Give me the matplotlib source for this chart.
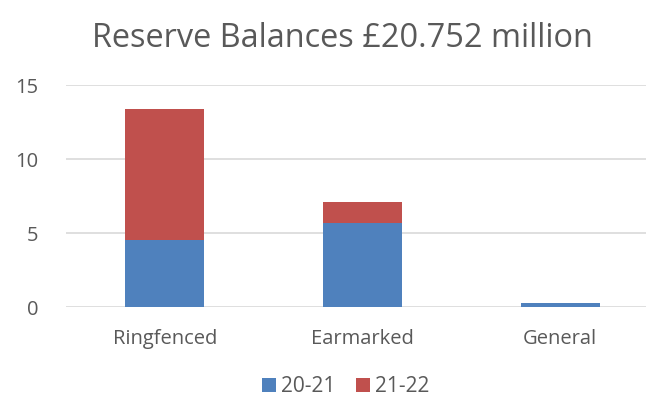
import matplotlib.pyplot as plt
import numpy as np

categories = ["Ringfenced", "Earmarked", "General"]
series_names = ["20-21", "21-22"]
values_2021 = [4.55, 5.65, 0.3]
values_2122 = [8.8, 1.45, 0.0]

plt.rcParams['font.family'] = ['Open Sans', 'DejaVu Sans']
grey = "#595959"

fig = plt.figure(figsize=(6.46, 4.01), dpi=100)
ax = fig.add_axes([0.102, 0.234, 0.918, 0.554])

x = np.arange(len(categories))
ax.bar(x, values_2021, width=0.40, color="#4F81BD", label=series_names[0], zorder=3)
ax.bar(x, values_2122, width=0.40, bottom=values_2021, color="#C0504D", label=series_names[1], zorder=3)

ax.set_xlim(-0.5, 2.5)
ax.set_ylim(0, 15)
ax.set_yticks([0, 5, 10, 15])
ax.set_xticks(x)
ax.set_xticklabels(categories)
ax.grid(axis="y", color="#D9D9D9", linewidth=1.2, zorder=0)
for s in ax.spines.values():
    s.set_visible(False)
ax.tick_params(length=0, labelsize=14.5, colors=grey)
ax.tick_params(axis="y", pad=20)
ax.tick_params(axis="x", pad=16)

fig.text(0.53, 0.905, "Reserve Balances £20.752 million", ha="center", va="center",
         fontsize=23.4, color=grey)

fig.legend(loc="center", bbox_to_anchor=(0.535, 0.035), ncol=2, frameon=False,
           fontsize=15, handlelength=0.65, handleheight=0.65, columnspacing=1.0,
           handletextpad=0.25, labelcolor=grey)

fig.savefig("out.png", dpi=100)
